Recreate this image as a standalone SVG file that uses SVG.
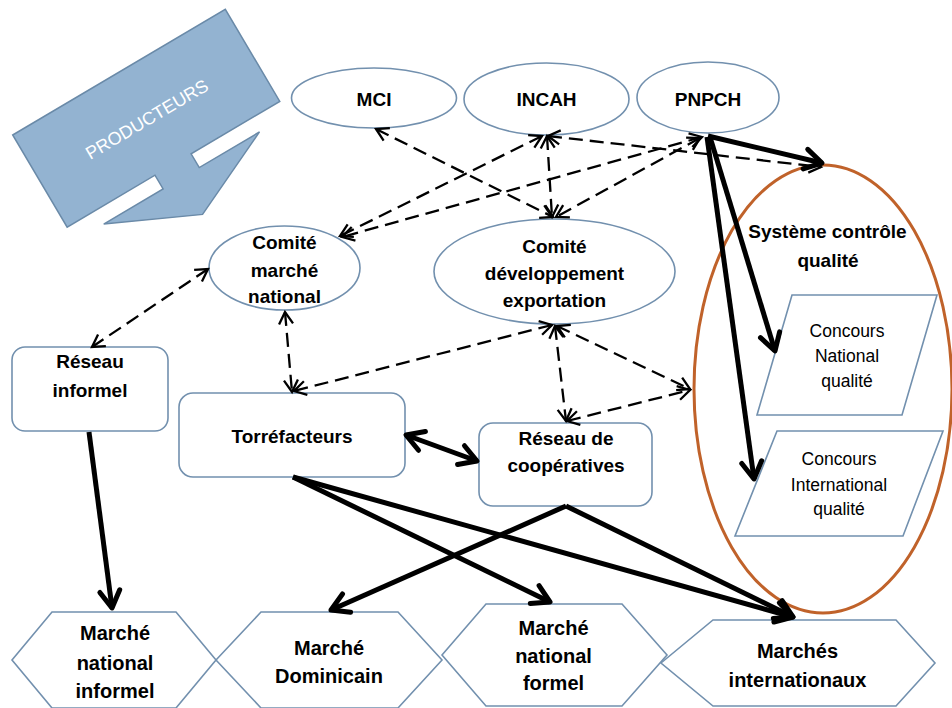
<svg xmlns="http://www.w3.org/2000/svg" width="952" height="708" viewBox="0 0 952 708">
<defs>
<style>
.node{fill:#fff;stroke:#7290AE;stroke-width:1.6}
.t{font-family:"Liberation Sans",Arial,sans-serif;font-weight:bold;font-size:19px;text-anchor:middle;fill:#000}
.sm{font-weight:normal;font-size:17.5px}
.hx{font-size:20px}
.dash{fill:none;stroke:#000;stroke-width:2.3;stroke-dasharray:14 7}
.solid{fill:none;stroke:#000;stroke-width:5}
</style>
<marker id="da" markerUnits="userSpaceOnUse" viewBox="-14 -10 16 20" refX="0" refY="0" markerWidth="16" markerHeight="20" orient="auto-start-reverse" overflow="visible">
<path d="M-12,-7 L0,0 L-12,7" fill="none" stroke="#000" stroke-width="2.3" stroke-dasharray="none" stroke-linejoin="miter"/>
</marker>
<marker id="sa" markerUnits="userSpaceOnUse" viewBox="-22 -14 26 28" refX="0" refY="0" markerWidth="26" markerHeight="28" orient="auto-start-reverse" overflow="visible">
<path d="M-17,-10 L0,0 L-17,10" fill="none" stroke="#000" stroke-width="5" stroke-linecap="round" stroke-linejoin="round"/>
</marker>
</defs>
<rect width="952" height="708" fill="#fff"/>

<g id="producteurs" transform="translate(12.7,135) rotate(-30.6)">
<polygon points="0,0 247,0 247,107 144,107 144,123 214,123 123,165 33,123 102,123 102,107 0,107" fill="#93B3D1" stroke="#6A8AA8" stroke-width="1.5"/>
<text x="123.5" y="61" font-family="'Liberation Sans',Arial,sans-serif" font-size="18" fill="#fff" text-anchor="middle">PRODUCTEURS</text>
</g>

<g id="mci"><ellipse class="node" cx="374" cy="98" rx="82.5" ry="30"/><text class="t" x="374" y="106">MCI</text></g>
<g id="incah"><ellipse class="node" cx="546.5" cy="99" rx="82.5" ry="36"/><text class="t" x="546.5" y="106">INCAH</text></g>
<g id="pnpch"><ellipse class="node" cx="708" cy="97.5" rx="71" ry="35.5"/><text class="t" x="708" y="106">PNPCH</text></g>

<g id="comite-marche"><ellipse class="node" cx="284.5" cy="268" rx="75.5" ry="42"/>
<text class="t" x="284.5" y="249">Comité</text><text class="t" x="284.5" y="277">marché</text><text class="t" x="284.5" y="303">national</text></g>

<g id="comite-dev"><ellipse class="node" cx="554.5" cy="271.5" rx="120.5" ry="52.5"/>
<text class="t" x="554.5" y="253">Comité</text><text class="t" x="554.5" y="280">développement</text><text class="t" x="554.5" y="306.5">exportation</text></g>

<g id="systeme"><ellipse cx="823" cy="389" rx="129" ry="224" fill="none" stroke="#C0622A" stroke-width="3"/>
<text class="t" x="827.5" y="238">Système contrôle</text><text class="t" x="828" y="267">qualité</text></g>

<g id="concours-national"><polygon class="node" points="792,295 937,295 902,415 757,415"/>
<text class="t sm" x="847" y="336.5">Concours</text><text class="t sm" x="847" y="362">National</text><text class="t sm" x="847" y="387">qualité</text></g>

<g id="concours-international"><polygon class="node" points="777,431 943,431 903,536 735,536"/>
<text class="t sm" x="839" y="465">Concours</text><text class="t sm" x="839" y="490.5">International</text><text class="t sm" x="839" y="515">qualité</text></g>

<g id="reseau-informel"><rect class="node" x="12" y="347" width="156" height="84" rx="13"/>
<text class="t" x="90" y="368">Réseau</text><text class="t" x="90" y="396.5">informel</text></g>

<g id="torrefacteurs"><rect class="node" x="179" y="393" width="226" height="84" rx="14"/>
<text class="t" x="292" y="443">Torréfacteurs</text></g>

<g id="reseau-coop"><rect class="node" x="479" y="423" width="173" height="83" rx="14"/>
<text class="t" x="566" y="445">Réseau de</text><text class="t" x="566" y="472">coopératives</text></g>

<g id="marche-informel"><polygon class="node" points="12,660 52,612 176,612 216,660 176,708 52,708"/>
<text class="t hx" x="115" y="640">Marché</text><text class="t hx" x="115" y="670">national</text><text class="t hx" x="115" y="698">informel</text></g>

<g id="marche-dominicain"><polygon class="node" points="216,660 261,612 398,612 442,660 398,708 261,708"/>
<text class="t hx" x="329" y="655">Marché</text><text class="t hx" x="329" y="683">Dominicain</text></g>

<g id="marche-formel"><polygon class="node" points="442,655 486,604 622,604 667,655 622,706 486,706"/>
<text class="t hx" x="553.5" y="635">Marché</text><text class="t hx" x="553.5" y="663">national</text><text class="t hx" x="553.5" y="690">formel</text></g>

<g id="marches-internationaux"><polygon class="node" points="661,663 713,620 896,620 935,663 896,706 713,706"/>
<text class="t hx" x="797.5" y="658">Marchés</text><text class="t hx" x="797.5" y="686.5">internationaux</text></g>

<g id="connectors">
<g marker-start="url(#da)" marker-end="url(#da)">
<path class="dash" d="M376,129 L553,217"/>
<path class="dash" d="M547,136 L552,217"/>
<path class="dash" d="M542,136 L340,236"/>
<path class="dash" d="M702,137 L342,237"/>
<path class="dash" d="M700,138 L556,217"/>
<path class="dash" d="M548,136 L821,167"/>
<path class="dash" d="M208,269 L92,347"/>
<path class="dash" d="M285,312 L292,392"/>
<path class="dash" d="M552,325 L294,391"/>
<path class="dash" d="M555,326 L566,421"/>
<path class="dash" d="M557,326 L690,389"/>
<path class="dash" d="M567,421 L690,390"/>
</g>
<g marker-end="url(#sa)">
<path class="solid" d="M708,136 L822,163"/>
<path class="solid" d="M710,137 L775,351"/>
<path class="solid" d="M707,137 L754,479"/>
<path class="solid" d="M89,432 L112,608"/>
<path class="solid" d="M293,477 L550,602"/>
<path class="solid" d="M293,477 L793,617"/>
<path class="solid" d="M566,506 L331,610"/>
<path class="solid" d="M566,506 L793,617"/>
<path class="solid" d="M406,435 L477,461" marker-start="url(#sa)"/>
</g>
</g>
</svg>
